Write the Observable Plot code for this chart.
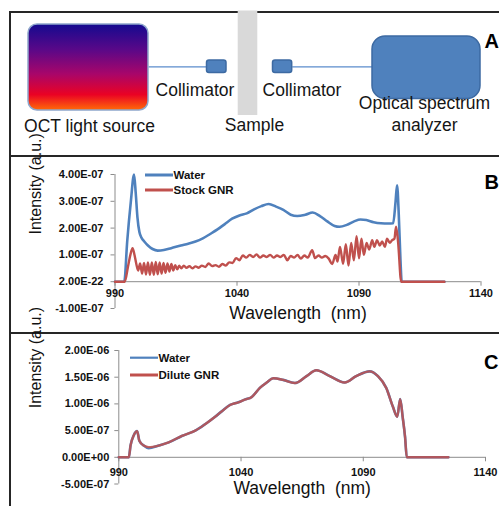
<!DOCTYPE html>
<html>
<head>
<meta charset="utf-8">
<script src="https://cdn.jsdelivr.net/npm/d3@7"></script>
<script src="https://cdn.jsdelivr.net/npm/@observablehq/plot@0.6"></script>
<style>
  html, body { margin: 0; padding: 0; background: #fff; }
  #fig { position: relative; width: 499px; height: 506px; overflow: hidden; font-family: "Liberation Sans", Arial, sans-serif; }
  .rule { position: absolute; background: #262626; }
  .panel { position: absolute; left: 0; }
  .panel svg { background: none !important; overflow: visible; }
  .bold-ticks [aria-label="y-axis tick label"] { font-weight: bold; }
</style>
</head>
<body>
<div id="fig">
  <div class="rule" style="left:9px;top:10.5px;width:490px;height:2px"></div>
  <div class="rule" style="left:9px;top:10.5px;width:2px;height:496px"></div>
  <div class="rule" style="left:9px;top:154.5px;width:490px;height:2px"></div>
  <div class="rule" style="left:9px;top:332.3px;width:490px;height:2px"></div>
  <div id="pA" class="panel" style="top:0px"></div>
  <div id="pB" class="panel bold-ticks" style="top:156px"></div>
  <div id="pC" class="panel bold-ticks" style="top:334px"></div>
</div>
<script>
// ---------------- DATA ----------------
// Panel A: schematic component labels
const diagramLabels = ["OCT light source", "Collimator", "Sample", "Collimator", "Optical spectrum\nanalyzer"];
const panelLetters = ["A", "B", "C"];

// Shared axis text
const xTicks = [990, 1040, 1090, 1140];
const xTitle = "Wavelength  (nm)";
const yTitle = "Intensity (a.u.)";

// Panel B
const seriesB = ["Water", "Stock GNR"];
const yTicksB = [-1e-7, 0, 1e-7, 2e-7, 3e-7, 4e-7];
const yTickLabelsB = ["-1.00E-07", "2.00E-22", "1.00E-07", "2.00E-07", "3.00E-07", "4.00E-07"];

const wavelengthWaterB = [990, 993.8, 995, 996.5, 997.8, 998.5, 999.2, 1000, 1001, 1002, 1003.5, 1005.4, 1007.5,
  1010, 1013, 1017, 1020, 1023, 1026, 1029, 1032, 1035, 1038, 1041, 1044, 1047, 1050, 1053, 1056, 1059, 1062,
  1064.7, 1068, 1071, 1074, 1077, 1080, 1082, 1085, 1088, 1090.6, 1093, 1096, 1099, 1102, 1104, 1105, 1105.6,
  1106.3, 1107, 1107.5, 1125];
const intensityWaterB = [0, 0, 1.5e-7, 3.0e-7, 4.0e-7, 3.3e-7, 2.4e-7, 1.85e-7, 1.62e-7, 1.5e-7, 1.35e-7, 1.22e-7, 1.16e-7,
  1.18e-7, 1.25e-7, 1.35e-7, 1.42e-7, 1.5e-7, 1.62e-7, 1.78e-7, 1.95e-7, 2.15e-7, 2.35e-7, 2.47e-7, 2.55e-7, 2.7e-7,
  2.82e-7, 2.9e-7, 2.8e-7, 2.68e-7, 2.5e-7, 2.45e-7, 2.5e-7, 2.58e-7, 2.45e-7, 2.25e-7, 2.08e-7, 2.05e-7, 2.12e-7,
  2.25e-7, 2.32e-7, 2.3e-7, 2.22e-7, 2.18e-7, 2.17e-7, 2.18e-7, 3.0e-7, 3.6e-7, 2.5e-7, 0.8e-7, 0, 0];

const wavelengthGnrB = [990, 994, 995.3, 996.3, 997.2, 998, 998.7, 999.5, 1000.3, 1001.1, 1001.9, 1002.7, 1003.5,
  1004.3, 1005.1, 1005.9, 1006.7, 1007.5, 1008.3, 1009.1, 1009.9, 1010.7, 1011.5, 1012.3, 1013.1, 1013.9, 1014.7,
  1015.5, 1016.3, 1017.2, 1018.2, 1019.3, 1020.5, 1021.7, 1023, 1024.3, 1025.6, 1027, 1028.4, 1029.8, 1031.2,
  1032.6, 1034, 1035.4, 1036.8, 1038.2, 1039.6, 1041, 1042.4, 1043.8, 1045.2, 1046.6, 1048, 1049.4, 1050.8,
  1052.2, 1053.6, 1055, 1056.4, 1057.8, 1059.2, 1060.6, 1062, 1063.4, 1064.8, 1066.2, 1067.6, 1069, 1070.8,
  1072, 1073.4, 1074.8, 1076.2, 1077.6, 1079, 1080.4, 1081.2, 1082.2, 1083.5, 1084.6, 1085.7, 1086.8, 1087.9,
  1089, 1090, 1091, 1092, 1093.1, 1094.2, 1095.4, 1096.3, 1097.4, 1098.5, 1099.5, 1100.6, 1101.5, 1102.6,
  1103.6, 1104.5, 1105.2, 1106, 1107.3, 1125];
const intensityGnrB = [0, 0, 0.55e-7, 1.0e-7, 1.25e-7, 1.0e-7, 0.68e-7, 0.42e-7, 0.68e-7, 0.3e-7, 0.7e-7, 0.27e-7, 0.72e-7,
  0.26e-7, 0.72e-7, 0.26e-7, 0.74e-7, 0.28e-7, 0.72e-7, 0.3e-7, 0.7e-7, 0.33e-7, 0.68e-7, 0.38e-7, 0.66e-7, 0.42e-7, 0.62e-7,
  0.46e-7, 0.6e-7, 0.5e-7, 0.6e-7, 0.52e-7, 0.58e-7, 0.5e-7, 0.57e-7, 0.52e-7, 0.6e-7, 0.55e-7, 0.68e-7, 0.58e-7, 0.62e-7,
  0.56e-7, 0.66e-7, 0.6e-7, 0.72e-7, 0.7e-7, 0.88e-7, 0.8e-7, 0.98e-7, 0.9e-7, 1.0e-7, 0.92e-7, 1.02e-7, 0.9e-7, 0.98e-7,
  0.92e-7, 1.0e-7, 0.9e-7, 0.98e-7, 0.92e-7, 1.0e-7, 0.8e-7, 0.96e-7, 0.9e-7, 1.0e-7, 0.86e-7, 0.98e-7, 0.9e-7, 1.18e-7,
  0.88e-7, 0.98e-7, 0.9e-7, 0.96e-7, 0.86e-7, 0.66e-7, 1.0e-7, 0.75e-7, 1.3e-7, 0.67e-7, 1.4e-7, 0.6e-7, 1.45e-7, 0.8e-7,
  1.7e-7, 0.87e-7, 1.6e-7, 1.0e-7, 1.45e-7, 1.2e-7, 1.55e-7, 1.3e-7, 1.55e-7, 1.35e-7, 1.5e-7, 1.3e-7, 1.6e-7, 1.45e-7,
  1.55e-7, 1.6e-7, 2.05e-7, 1.5e-7, 0, 0];

// Panel C
const seriesC = ["Water", "Dilute GNR"];
const yTicksC = [-5e-7, 0, 5e-7, 1e-6, 1.5e-6, 2e-6];
const yTickLabelsC = ["-5.00E-07", "0.00E+00", "5.00E-07", "1.00E-06", "1.50E-06", "2.00E-06"];

const wavelengthC = [990, 994.1, 994.8, 996.1, 997.5, 998.4, 1000.2, 1002.2, 1006.3, 1010.4, 1015.8, 1021.3, 1025.3,
  1029.4, 1032.1, 1035.5, 1038.9, 1041.5, 1044.4, 1047.7, 1050.5, 1053.2, 1057.2, 1062, 1066.8, 1070.8, 1076.3,
  1082.4, 1087.1, 1092.6, 1096, 1099.4, 1102.1, 1103.9, 1105.1, 1106.1, 1107.1, 1107.8, 1124.8];
const intensityWaterC = [0, 0, 0.22e-6, 0.41e-6, 0.49e-6, 0.31e-6, 0.22e-6, 0.17e-6, 0.22e-6, 0.28e-6, 0.4e-6, 0.5e-6, 0.62e-6,
  0.76e-6, 0.86e-6, 0.98e-6, 1.03e-6, 1.08e-6, 1.13e-6, 1.3e-6, 1.4e-6, 1.48e-6, 1.45e-6, 1.39e-6, 1.52e-6, 1.63e-6, 1.52e-6,
  1.4e-6, 1.52e-6, 1.61e-6, 1.52e-6, 1.3e-6, 0.95e-6, 0.76e-6, 1.09e-6, 0.76e-6, 0.38e-6, 0, 0];
const intensityGnrC = [0, 0, 0.22e-6, 0.41e-6, 0.49e-6, 0.31e-6, 0.22e-6, 0.19e-6, 0.22e-6, 0.28e-6, 0.4e-6, 0.5e-6, 0.62e-6,
  0.76e-6, 0.86e-6, 0.98e-6, 1.03e-6, 1.08e-6, 1.13e-6, 1.3e-6, 1.4e-6, 1.48e-6, 1.45e-6, 1.39e-6, 1.52e-6, 1.63e-6, 1.52e-6,
  1.4e-6, 1.52e-6, 1.61e-6, 1.52e-6, 1.3e-6, 0.95e-6, 0.76e-6, 1.09e-6, 0.76e-6, 0.38e-6, 0, 0];

// ---------------- STYLE / LAYOUT ----------------
const FONT = "'Liberation Sans', Arial, sans-serif";
const BLUE = "#4f81bd", RED = "#c0504d", AXIS = "#8c8c8c";

const toRows = (xs, ys) => xs.map((x, i) => ({x, y: ys[i]}));

// Schematic layout (pixel geometry of panel A)
const layoutA = {
  boxes: [
    {key: "source", x1: 28, x2: 148, y1: 24, y2: 110, rx: 9, fill: "url(#srcGrad)", stroke: "#8ea6cc"},
    {key: "coll1", x1: 206.5, x2: 226, y1: 60, y2: 72.5, rx: 2.5, fill: BLUE, stroke: "#3d6aa2"},
    {key: "sample", x1: 237.7, x2: 257.3, y1: 10.5, y2: 115, rx: 0, fill: "#d9d9d9", stroke: "none"},
    {key: "coll2", x1: 272.5, x2: 291.7, y1: 60, y2: 72.5, rx: 2.5, fill: BLUE, stroke: "#3d6aa2"},
    {key: "osa", x1: 372, x2: 480, y1: 36, y2: 98.5, rx: 13, fill: BLUE, stroke: "#3d6aa2"}
  ],
  fibers: [{x1: 148, x2: 206.5, y: 66.3}, {x1: 291.7, x2: 372, y: 66.3}],
  labelPos: [{x: 89, y: 124.5}, {x: 194.5, y: 88}, {x: 254, y: 123.5}, {x: 301.5, y: 88}, {x: 424, y: 112}]
};

// ---------------- PANEL A ----------------
const gradientDefs = () => {
  const defs = d3.create("svg:defs");
  const g = defs.append("linearGradient").attr("id", "srcGrad")
    .attr("x1", 0).attr("y1", 0).attr("x2", 0).attr("y2", 1);
  [["0%", "#140a8f"], ["30%", "#5a0888"], ["58%", "#a8066a"], ["82%", "#ea0224"], ["100%", "#ff6a08"]]
    .forEach(([o, c]) => g.append("stop").attr("offset", o).attr("stop-color", c));
  return defs.node();
};

const labelRowsA = diagramLabels.map((t, i) => ({t, ...layoutA.labelPos[i]}));

const plotA = Plot.plot({
  width: 499, height: 155,
  margin: 0,
  x: {domain: [0, 499], range: [0, 499], axis: null},
  y: {domain: [0, 155], range: [0, 155], axis: null},
  style: {background: "none", fontFamily: FONT, overflow: "visible"},
  marks: [
    gradientDefs,
    Plot.link(layoutA.fibers, {x1: "x1", x2: "x2", y1: "y", y2: "y", stroke: "#5b8ccc", strokeWidth: 1.2}),
    Plot.rect(layoutA.boxes, {x1: "x1", x2: "x2", y1: "y1", y2: "y2", fill: "fill", stroke: "stroke", strokeWidth: 1.5,
      render: (index, scales, values, dims, context, next) => {
        const g = next(index, scales, values, dims, context);
        d3.select(g).selectAll("rect").each(function(d, j) {
          const i = index[j];
          d3.select(this).attr("rx", layoutA.boxes[i].rx).attr("ry", layoutA.boxes[i].rx);
        });
        return g;
      }}),
    Plot.text(labelRowsA, {x: "x", y: "y", text: "t", fontSize: 17.5, fill: "#151515", lineHeight: 1.27}),
    Plot.text([panelLetters[0]], {frameAnchor: "top-right", dx: -15, dy: 33, text: d => d, textAnchor: "start",
      fontSize: 20, fontWeight: "bold", fill: "#000"})
  ]
});
document.getElementById("pA").appendChild(plotA);

// ---------------- helpers ----------------
function legendMark(names, colors, widths, offX, offY, gap) {
  return (index, scales, values, dims) => {
    const g = d3.create("svg:g").attr("font-family", FONT).attr("text-anchor", "start");
    names.forEach((n, i) => {
      const y = dims.marginTop + offY + i * gap;
      const x0 = dims.marginLeft + offX;
      g.append("line").attr("x1", x0).attr("x2", x0 + 28).attr("y1", y).attr("y2", y)
        .attr("stroke", colors[i]).attr("stroke-width", widths[i]);
      g.append("text").attr("x", x0 + 28.5).attr("y", y).attr("dy", "0.36em").attr("text-anchor", "start")
        .attr("font-size", 11.5).attr("font-weight", "bold").attr("fill", "#111").text(n);
    });
    return g.node();
  };
}

function spectrumPlot(cfg) {
  const labelMap = new Map(cfg.yTicks.map((t, i) => [t, cfg.yLabels[i]]));
  return Plot.plot({
    width: 499, height: cfg.height,
    marginLeft: cfg.ml, marginRight: cfg.mr, marginTop: cfg.mt, marginBottom: cfg.mb,
    style: {background: "none", fontFamily: FONT, overflow: "visible"},
    x: {domain: [990, 1140], axis: null},
    y: {domain: [cfg.yTicks[0], cfg.yTicks[cfg.yTicks.length - 1]], axis: null},
    marks: [
      Plot.ruleX([990], {stroke: AXIS, strokeWidth: 1}),
      Plot.axisY({ticks: cfg.yTicks, tickFormat: d => labelMap.get(d), tickSize: 4, tickPadding: cfg.tp,
        stroke: AXIS, fill: "#111", fontSize: 11, fontWeight: "bold", label: null}),
      Plot.ruleY([0], {stroke: AXIS, strokeWidth: 1}),
      Plot.ruleX(xTicks, {x: d => d, y1: 0, y2: 0, insetBottom: -4.5, stroke: AXIS}),
      Plot.text(xTicks, {x: d => d, y: 0, dy: cfg.xdy, text: d => String(d), fontSize: 11, fontWeight: "bold", fill: "#111"}),
      ...cfg.lines,
      Plot.text([yTitle], {frameAnchor: "left", dx: -(cfg.ml - 35), dy: cfg.ytdy, rotate: -90, text: d => d, fontSize: 16, fill: "#111"}),
      Plot.text([xTitle], {frameAnchor: "bottom", dy: cfg.xtdy, text: d => d, fontSize: 17.5, fill: "#111"}),
      legendMark(cfg.series, [BLUE, RED], cfg.legendW, cfg.lx, cfg.ly, cfg.lgap),
      Plot.text([cfg.letter], {frameAnchor: "top-right", dx: cfg.letterDx, dy: cfg.letterDy, text: d => d,
        textAnchor: "start", fontSize: 20, fontWeight: "bold", fill: "#000"})
    ]
  });
}

// ---------------- PANEL B ----------------
const plotB = spectrumPlot({
  height: 176, ml: 114.5, mr: 18.5, mt: 18, mb: 24, tp: 7.5,
  yTicks: yTicksB, yLabels: yTickLabelsB, xdy: 12, ytdy: -7, xtdy: 10,
  series: seriesB, legendW: [3, 3], lx: 30.5, ly: 1, lgap: 15,
  letter: panelLetters[1], letterDx: 3.5, letterDy: 0,
  lines: [
    Plot.line(toRows(wavelengthWaterB, intensityWaterB), {x: "x", y: "y", stroke: BLUE, strokeWidth: 2.6, curve: "monotone-x"}),
    Plot.line(toRows(wavelengthGnrB, intensityGnrB), {x: "x", y: "y", stroke: RED, strokeWidth: 2.4, curve: "monotone-x"})
  ]
});
document.getElementById("pB").appendChild(plotB);

// ---------------- PANEL C ----------------
const plotC = spectrumPlot({
  height: 172, ml: 118.3, mr: 14, mt: 16, mb: 22.5, tp: 5.5,
  yTicks: yTicksC, yLabels: yTickLabelsC, xdy: 15, ytdy: -9, xtdy: 9.5,
  series: seriesC, legendW: [2.2, 3], lx: 11.7, ly: 7.7, lgap: 17.3,
  letter: panelLetters[2], letterDx: -1.5, letterDy: 4,
  lines: [
    Plot.line(toRows(wavelengthC, intensityWaterC), {x: "x", y: "y", stroke: BLUE, strokeWidth: 2.6, curve: "monotone-x"}),
    Plot.line(toRows(wavelengthC, intensityGnrC), {x: "x", y: "y", stroke: RED, strokeWidth: 2.4, strokeOpacity: 0.85, curve: "monotone-x"})
  ]
});
document.getElementById("pC").appendChild(plotC);
</script>
</body>
</html>
